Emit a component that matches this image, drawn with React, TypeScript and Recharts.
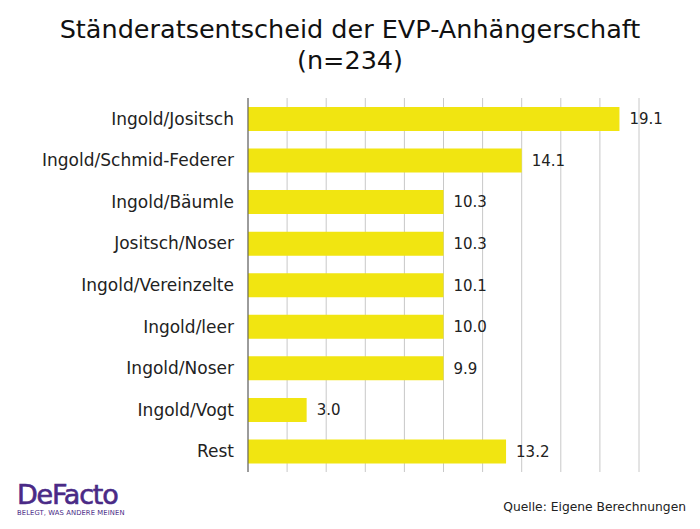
import React from 'react';
import { BarChart, Bar, XAxis, YAxis, CartesianGrid, LabelList } from 'recharts';

const candidates = [
  'Ingold/Jositsch',
  'Ingold/Schmid-Federer',
  'Ingold/Bäumle',
  'Jositsch/Noser',
  'Ingold/Vereinzelte',
  'Ingold/leer',
  'Ingold/Noser',
  'Ingold/Vogt',
  'Rest',
];
// printed labels
const shares = [19.1, 14.1, 10.3, 10.3, 10.1, 10.0, 9.9, 3.0, 13.2];
// bar lengths as drawn in the source (the middle bars all stop at the 10 gridline)
const barLengths = [19.0, 14.0, 10.0, 10.0, 10.0, 10.0, 10.0, 3.0, 13.2];
const xTicks = [0, 2, 4, 6, 8, 10, 12, 14, 16, 18, 20];

const data = candidates.map((name, i) => ({ name, value: barLengths[i], label: shares[i].toFixed(1) }));

const font = '"DejaVu Sans", "Noto Sans", sans-serif';

const App: React.FC = () => {
  return (
    <div style={{ position: 'absolute', left: 0, top: 0, width: 700, height: 529, background: '#fff', fontFamily: font }}>
      <div style={{ position: 'absolute', top: 14, width: 700, textAlign: 'center', fontSize: 25.5, lineHeight: '31px', color: '#111' }}>
        Ständeratsentscheid der EVP-Anhängerschaft
        <br />
        (n=234)
      </div>
      <BarChart
        width={700}
        height={529}
        data={data}
        layout="vertical"
        margin={{ top: 98, right: 61, bottom: 57, left: 8 }}
      >
        <CartesianGrid horizontal={false} stroke="#c8c8c8" />
        <XAxis
          type="number"
          domain={[0, 20]}
          ticks={xTicks}
          interval={0}
          tick={{ fill: 'transparent', fontSize: 1 }}
          axisLine={false}
          tickLine={false}
          height={0}
        />
        <YAxis
          type="category"
          dataKey="name"
          width={240}
          axisLine={{ stroke: '#555' }}
          tickLine={false}
          tickSize={0}
          tickMargin={14}
          tick={{ fontSize: 17, fill: '#222', fontFamily: font }}
        />
        <Bar dataKey="value" fill="#f1e511" barSize={24} isAnimationActive={false}>
          <LabelList
            dataKey="label"
            position="right"
            offset={10}
            style={{ fontSize: 15, fill: '#222', fontFamily: font }}
          />
        </Bar>
      </BarChart>
      <div style={{ position: 'absolute', left: 17, top: 480, color: '#4a2a86' }}>
        <div style={{ fontSize: 27, letterSpacing: -1.2, lineHeight: '29px', WebkitTextStroke: '0.6px #4a2a86' }}>DeFacto</div>
        <div style={{ fontSize: 6.8, lineHeight: '8px', letterSpacing: 0.1 }}>BELEGT, WAS ANDERE MEINEN</div>
      </div>
      <div style={{ position: 'absolute', right: 14, top: 500, fontSize: 12.3, color: '#222' }}>
        Quelle: Eigene Berechnungen
      </div>
    </div>
  );
};

export default App;
